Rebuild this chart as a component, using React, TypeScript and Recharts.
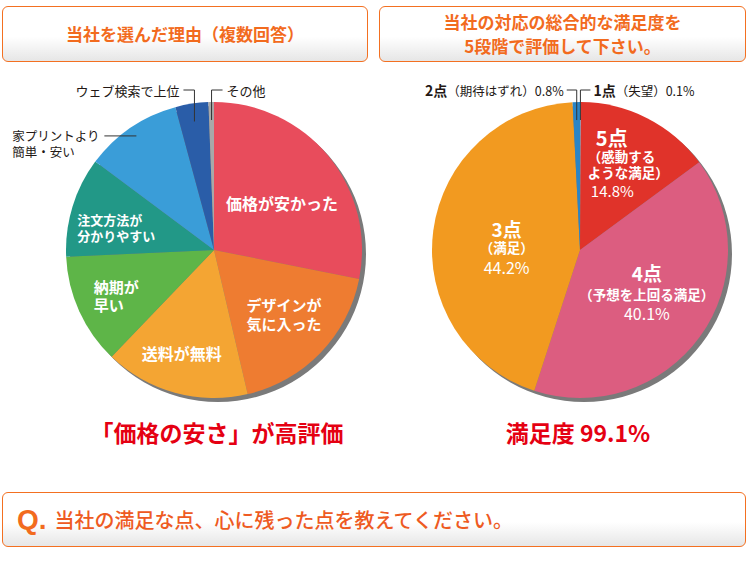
import { Cell, Pie, PieChart } from "recharts";

const reasonNames = [
  "価格が安かった",
  "デザインが\n気に入った",
  "送料が無料",
  "納期が\n早い",
  "注文方法が\n分かりやすい",
  "家プリントより\n簡単・安い",
  "ウェブ検索で上位",
  "その他",
];
const reasonShares = [28.1, 18.2, 15.8, 12.1, 10.9, 10.6, 3.6, 0.6];
const reasonColors = ["#E84C5C", "#EE7C31", "#F4A533", "#5EB548", "#229887", "#3A9DD8", "#2A5DA8", "#A8A8A8"];

const scoreNames = ["1点", "5点", "4点", "3点", "2点"];
const scoreNotes = ["失望", "感動する\nような満足", "予想を上回る満足", "満足", "期待はずれ"];
const scoreShares = [0.1, 14.8, 40.1, 44.2, 0.8];
const scoreColors = ["#8FB9DD", "#E0332A", "#DC5D80", "#F29A20", "#2A85C6"];

const reasonData = reasonNames.map((name, i) => ({ name, value: reasonShares[i] }));
const scoreData = scoreNames.map((name, i) => ({ name, note: scoreNotes[i], value: scoreShares[i] }));
const shadowData = [{ value: 1 }];

const FONT = "'Noto Sans CJK JP', 'Noto Sans', sans-serif";
const RAD = Math.PI / 180;
const ORANGE = "#F26B1E";

const polar = (cx: number, cy: number, r: number, angle: number) => [
  cx + r * Math.cos(-angle * RAD),
  cy + r * Math.sin(-angle * RAD),
];

// label placement for the left pie, by slice
const reasonLabelSpec: any[] = [
  { kind: "in", r: 88, dx: 0, dy: 9, size: 16, lh: 20, anchor: "middle" },
  { kind: "in", r: 94.5, dx: 2, dy: -2, size: 15, lh: 19, anchor: "middle" },
  { kind: "in", r: 107, dx: -4, dy: 0, size: 16, lh: 19, anchor: "middle" },
  { kind: "in", r: 109, dx: -21, dy: 0, size: 15, lh: 18, anchor: "start" },
  { kind: "in", r: 96, dx: -45, dy: 6, size: 13, lh: 16, anchor: "start" },
  { kind: "side" },
  { kind: "up", side: -1 },
  { kind: "up", side: 1 },
];

function renderReasonLabel(p: any) {
  const { cx, cy, midAngle, outerRadius, index } = p;
  const spec = reasonLabelSpec[index];
  const lines = reasonNames[index].split("\n");
  if (spec.kind === "in") {
    const [x0, y0] = polar(cx, cy, spec.r, midAngle);
    const x = x0 + spec.dx;
    const y = y0 + spec.dy;
    return (
      <g key={`rl-${index}`}>
        {lines.map((t, i) => (
          <text
            key={i}
            x={x}
            y={y + (i - (lines.length - 1) / 2) * spec.lh}
            textAnchor={spec.anchor}
            dominantBaseline="central"
            fill="#fff"
            fontSize={spec.size}
            fontWeight={700}
            fontFamily={FONT}
          >
            {t}
          </text>
        ))}
      </g>
    );
  }
  if (spec.kind === "up") {
    const [x, y] = polar(cx, cy, outerRadius - 18, midAngle);
    const top = cy - outerRadius - 12;
    const x2 = x + spec.side * 11;
    return (
      <g key={`rl-${index}`}>
        <polyline points={`${x},${y} ${x},${top} ${x2},${top}`} fill="none" stroke="#333" strokeWidth={1} />
        <text
          x={x2 + spec.side * 4}
          y={top}
          textAnchor={spec.side < 0 ? "end" : "start"}
          dominantBaseline="central"
          fill="#231815"
          fontSize={13}
          fontFamily={FONT}
        >
          {lines[0]}
        </text>
      </g>
    );
  }
  const [x, y] = polar(cx, cy, outerRadius - 10, midAngle);
  const x2 = x - 32;
  return (
    <g key={`rl-${index}`}>
      <line x1={x} y1={y} x2={x2} y2={y} stroke="#333" strokeWidth={1} />
      {lines.map((t, i) => (
        <text
          key={i}
          x={x2 - 92}
          y={y + i * 16}
          textAnchor="start"
          dominantBaseline="central"
          fill="#231815"
          fontSize={12.5}
          fontFamily={FONT}
        >
          {t}
        </text>
      ))}
    </g>
  );
}

// label placement for the right pie, by slice
const scoreLabelSpec: any[] = [
  { kind: "up", side: 1 },
  {
    kind: "in", r: 90, dx: -33, dy: -6, anchor: "start",
    rows: [
      { part: "name", dy: -26, dx: 8, size: 20, weight: 700 },
      { part: "note0", dy: -8, dx: 0, size: 13.5, weight: 700 },
      { part: "note1", dy: 8, dx: 0, size: 13.5, weight: 700 },
      { part: "value", dy: 27, dx: 3, size: 15, weight: 400 },
    ],
  },
  {
    kind: "in", r: 80, dx: 2, dy: -3, anchor: "middle",
    rows: [
      { part: "name", dy: -21, dx: 0, size: 19, weight: 700 },
      { part: "note0", dy: 0, dx: 0, size: 13.5, weight: 700 },
      { part: "value", dy: 19, dx: 0, size: 16, weight: 400 },
    ],
  },
  {
    kind: "in", r: 74, dx: 0, dy: 7, anchor: "middle",
    rows: [
      { part: "name", dy: -19, dx: 0, size: 19, weight: 700 },
      { part: "note0", dy: 0, dx: 0, size: 13.5, weight: 700 },
      { part: "value", dy: 20, dx: 0, size: 16, weight: 400 },
    ],
  },
  { kind: "up", side: -1 },
];

function renderScoreLabel(p: any) {
  const { cx, cy, midAngle, outerRadius, index } = p;
  const spec = scoreLabelSpec[index];
  const name = scoreNames[index];
  const notes = scoreNotes[index].split("\n");
  const pct = `${scoreShares[index].toFixed(1)}%`;
  if (spec.kind === "in") {
    const [x0, y0] = polar(cx, cy, spec.r, midAngle);
    const x = x0 + spec.dx;
    const y = y0 + spec.dy;
    const textOf = (part: string) => {
      if (part === "name") return name;
      if (part === "value") return pct;
      if (notes.length === 1) return `（${notes[0]}）`;
      return part === "note0" ? `（${notes[0]}` : `${notes[1]}）`;
    };
    return (
      <g key={`sl-${index}`}>
        {spec.rows.map((row: any, i: number) => (
          <text
            key={i}
            x={x + row.dx}
            y={y + row.dy}
            textAnchor={spec.anchor}
            dominantBaseline="central"
            fill="#fff"
            fontSize={row.size}
            fontWeight={row.weight}
            fontFamily={FONT}
          >
            {textOf(row.part)}
          </text>
        ))}
      </g>
    );
  }
  const [x, y] = polar(cx, cy, outerRadius - 18, midAngle);
  const top = cy - outerRadius - 12;
  const x2 = x + spec.side * 10;
  return (
    <g key={`sl-${index}`}>
      <polyline points={`${x},${y} ${x},${top} ${x2},${top}`} fill="none" stroke="#333" strokeWidth={1} />
      <text
        x={x2 + spec.side * 3}
        y={top}
        textAnchor={spec.side < 0 ? "end" : "start"}
        dominantBaseline="central"
        fill="#231815"
        fontSize={12.5}
        fontFamily={FONT}
      >
        <tspan fontWeight={700} fontSize={14}>{name}</tspan>
        <tspan>{`（${notes[0]}）${pct}`}</tspan>
      </text>
    </g>
  );
}

const boxStyle: React.CSSProperties = {
  position: "absolute",
  boxSizing: "border-box",
  border: "1.5px solid #F37021",
  borderRadius: 6,
  background: "linear-gradient(#ffffff 55%, #e6e6e6)",
  display: "flex",
  flexDirection: "column",
  alignItems: "center",
  justifyContent: "center",
  color: ORANGE,
  fontFamily: FONT,
  fontWeight: 700,
  fontSize: 17,
  lineHeight: "24px",
};

const headline: React.CSSProperties = {
  position: "absolute",
  width: 400,
  top: 418,
  height: 28,
  lineHeight: "28px",
  textAlign: "center",
  color: "#E50012",
  fontWeight: 700,
  fontSize: 23,
};

export default function App() {
  return (
    <div style={{ position: "absolute", left: 0, top: 0, width: 750, height: 562, background: "#fff", fontFamily: FONT }}>
      <PieChart width={750} height={562} style={{ position: "absolute", left: 0, top: 0 }}>
        <Pie data={shadowData} dataKey="value" cx={213} cy={249} outerRadius={148} fill="#7a7a7a" stroke="none" isAnimationActive={false} />
        <Pie
          data={reasonData}
          dataKey="value"
          cx={209}
          cy={245}
          outerRadius={148}
          startAngle={90}
          endAngle={-270}
          stroke="none"
          labelLine={false}
          label={renderReasonLabel}
          isAnimationActive={false}
        >
          {reasonData.map((d, i) => (
            <Cell key={d.name} fill={reasonColors[i]} />
          ))}
        </Pie>
        <Pie data={shadowData} dataKey="value" cx={579} cy={249} outerRadius={148} fill="#7a7a7a" stroke="none" isAnimationActive={false} />
        <Pie
          data={scoreData}
          dataKey="value"
          cx={575}
          cy={245}
          outerRadius={148}
          startAngle={90}
          endAngle={-270}
          stroke="none"
          labelLine={false}
          label={renderScoreLabel}
          isAnimationActive={false}
        >
          {scoreData.map((d, i) => (
            <Cell key={d.name} fill={scoreColors[i]} />
          ))}
        </Pie>
      </PieChart>

      <div style={{ ...boxStyle, left: 2, top: 6, width: 366, height: 56 }}>
        <div>当社を選んだ理由（複数回答）</div>
      </div>
      <div style={{ ...boxStyle, left: 379, top: 6, width: 367, height: 56 }}>
        <div>当社の対応の総合的な満足度を</div>
        <div>5段階で評価して下さい。</div>
      </div>

      <div style={{ ...headline, left: 17 }}>「価格の安さ」が高評価</div>
      <div style={{ ...headline, left: 378 }}>満足度 99.1%</div>

      <div style={{ ...boxStyle, left: 2, top: 492, width: 744, height: 55, flexDirection: "row", justifyContent: "flex-start", fontWeight: 400 }}>
        <span style={{ marginLeft: 14, fontFamily: "'Liberation Sans', Arial, sans-serif", fontWeight: 700, fontSize: 28, color: ORANGE }}>Q.</span>
        <span style={{ marginLeft: 8, fontSize: 20, color: "#EE5A22", fontWeight: 500 }}>当社の満足な点、心に残った点を教えてください。</span>
      </div>
    </div>
  );
}
